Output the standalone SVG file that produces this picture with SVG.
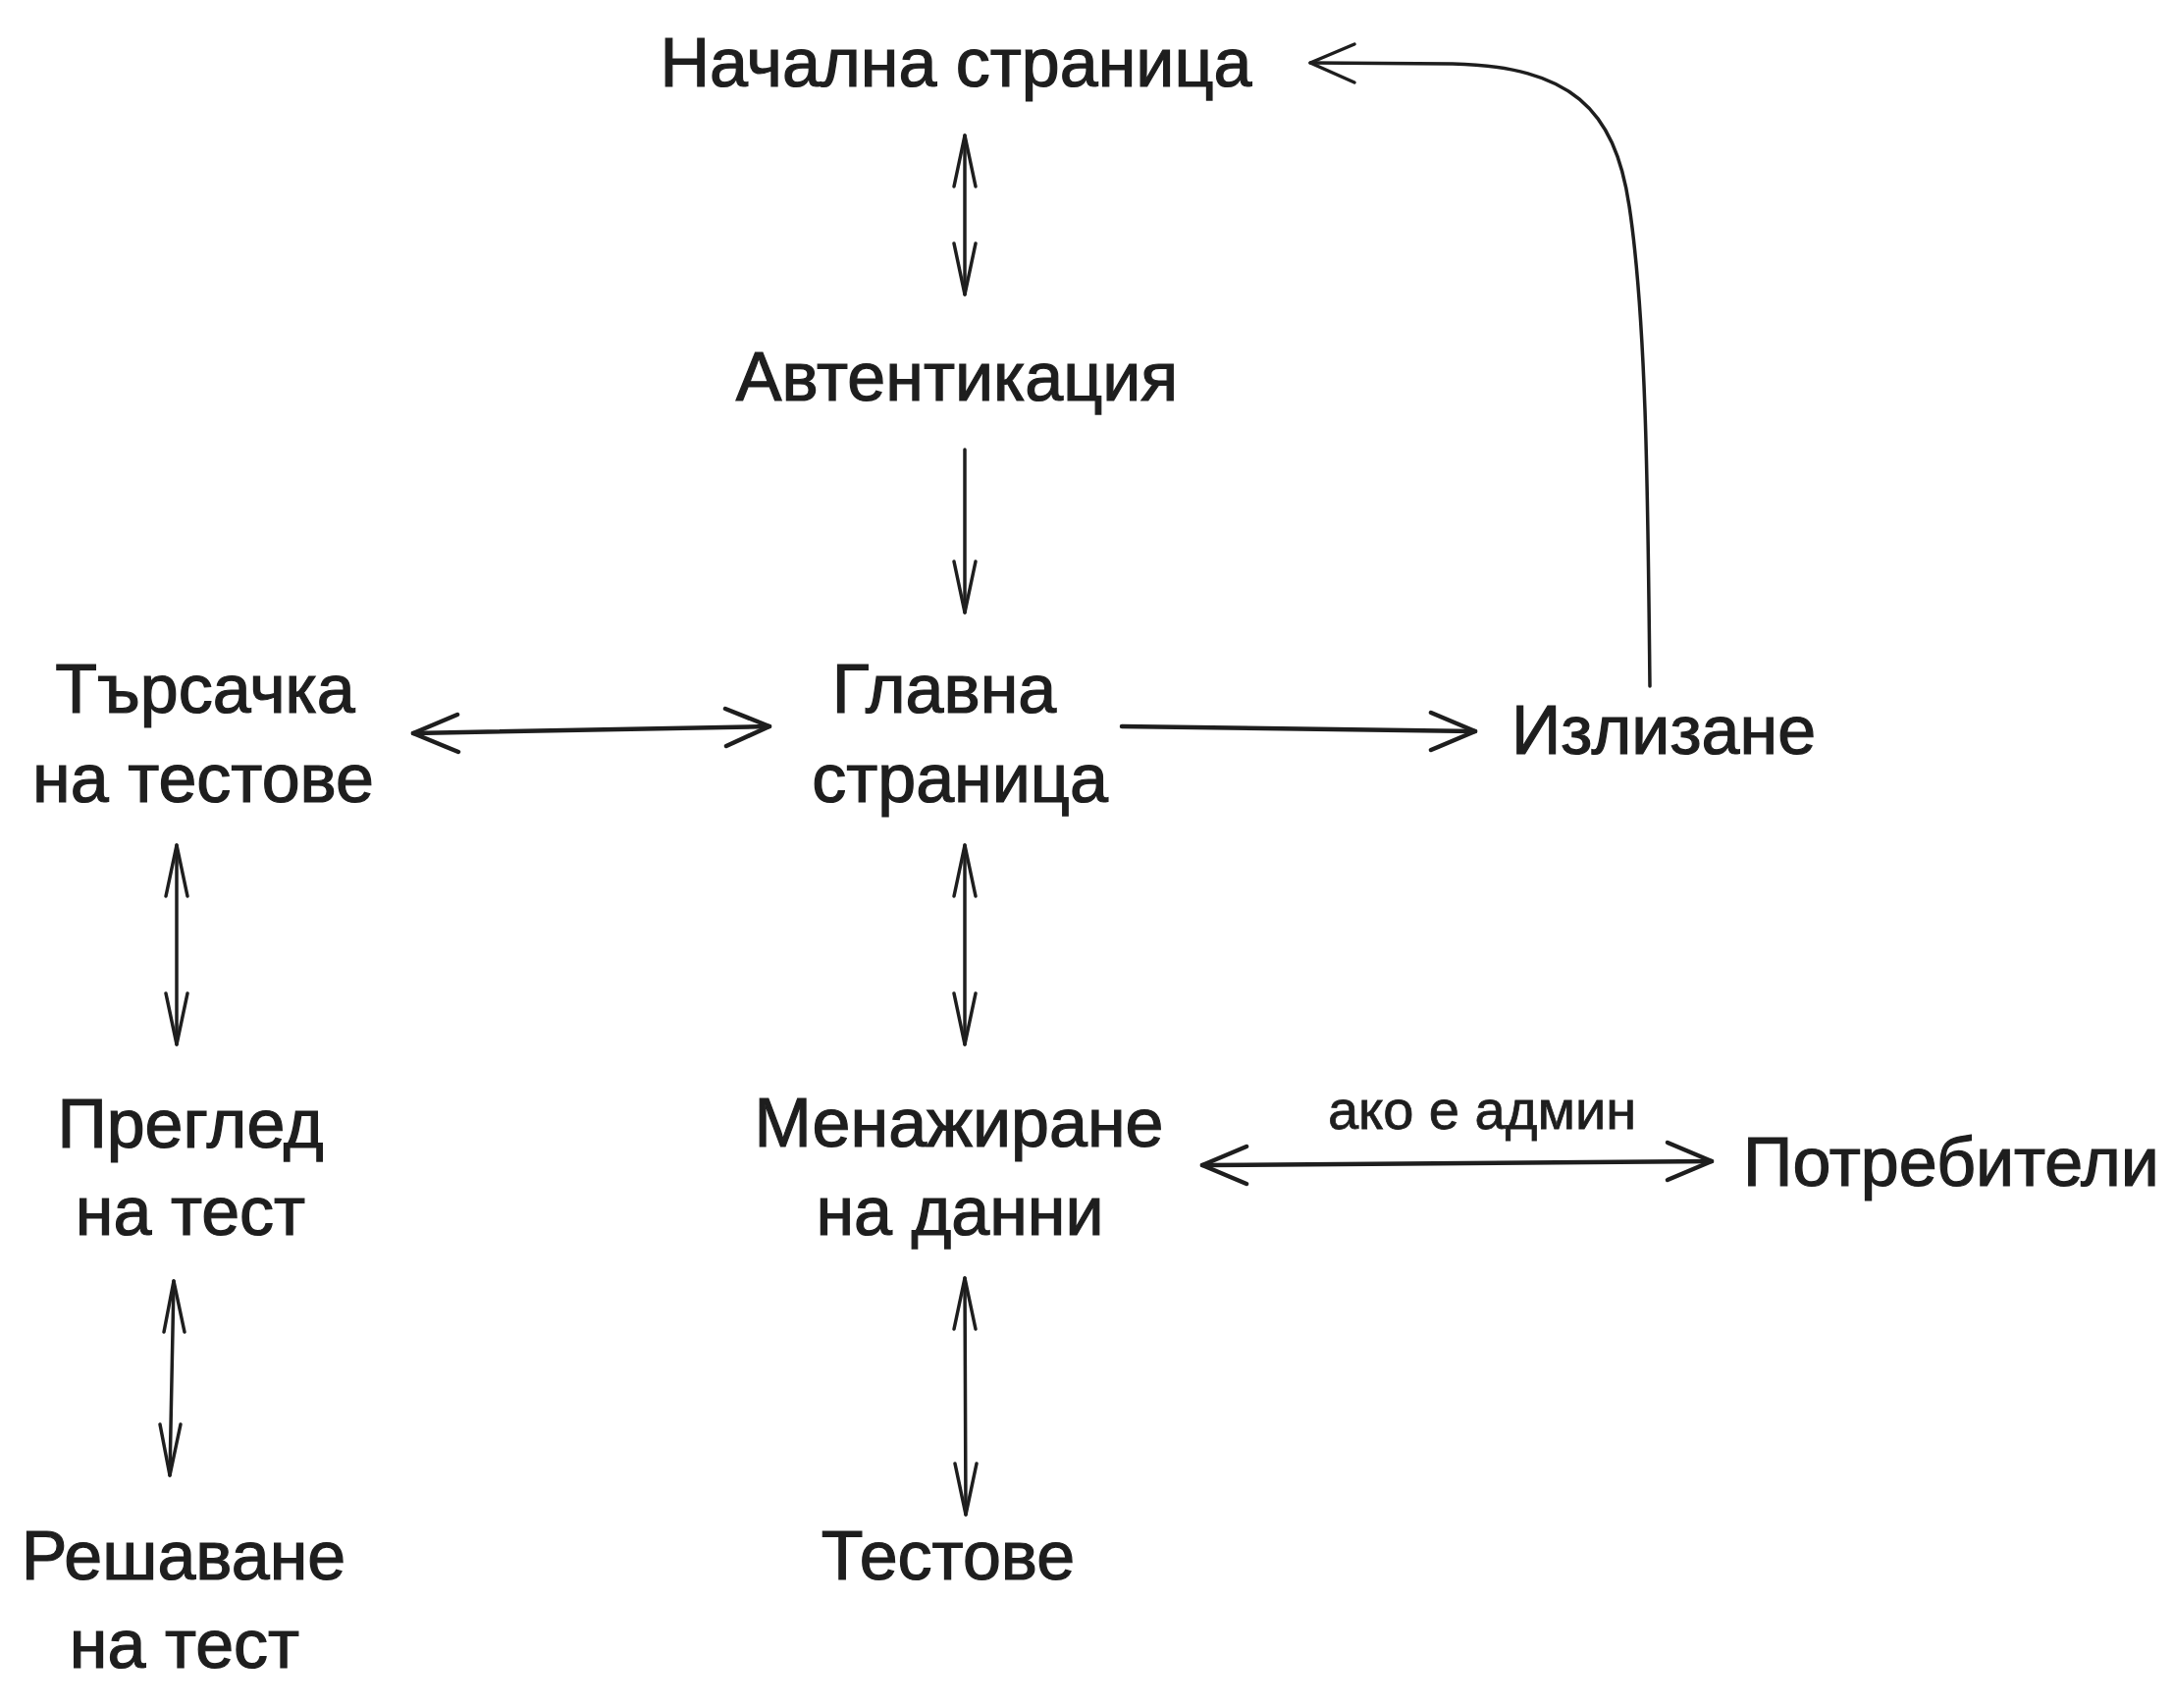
<svg xmlns="http://www.w3.org/2000/svg" width="2214" height="1740" viewBox="0 0 2214 1740">
<style>
.t{font-family:"Liberation Sans","Noto Sans",sans-serif;font-size:70px;fill:#1e1e1e;stroke:#1e1e1e;stroke-width:1.2;text-anchor:middle}
.lbl{font-family:"Liberation Sans","Noto Sans",sans-serif;font-size:56px;fill:#1e1e1e;stroke:#1e1e1e;stroke-width:0.8;text-anchor:middle}
.c{fill:none;stroke:#1e1e1e;stroke-width:3.5;stroke-linecap:round;stroke-linejoin:round}
.b{stroke-width:4.5}
</style>
<rect width="2214" height="1740" fill="#ffffff"/>
<g id="connectors">
  <g id="e-start-auth" class="c">
    <path d="M983 138 L983 300"/>
    <path d="M972 190 L983 138 L994 190"/>
    <path d="M972 248 L983 300 L994 248"/>
  </g>
  <g id="e-auth-main" class="c">
    <path d="M983 458 L983 624"/>
    <path d="M972 572 L983 624 L994 572"/>
  </g>
  <g id="e-search-main" class="c b">
    <path d="M421 747 L784 740"/>
    <path d="M466 728 L421 747 L467 766"/>
    <path d="M739 722 L784 740 L740 760"/>
  </g>
  <g id="e-main-logout" class="c b">
    <path d="M1143 740 L1503 745"/>
    <path d="M1458 726 L1503 745 L1458 764"/>
  </g>
  <g id="e-logout-start" class="c">
    <path d="M1681 699 C1679 520 1678 330 1660 210 C1645 110 1600 68 1480 65 L1335 64"/>
    <path d="M1380 45 L1335 64 L1380 84"/>
  </g>
  <g id="e-search-review" class="c">
    <path d="M180 861 L180 1064"/>
    <path d="M169 913 L180 861 L191 913"/>
    <path d="M169 1012 L180 1064 L191 1012"/>
  </g>
  <g id="e-main-manage" class="c">
    <path d="M983 861 L983 1064"/>
    <path d="M972 913 L983 861 L994 913"/>
    <path d="M972 1012 L983 1064 L994 1012"/>
  </g>
  <g id="e-manage-users" class="c b">
    <path d="M1225 1187 L1744 1183"/>
    <path d="M1270 1168 L1225 1187 L1270 1206"/>
    <path d="M1699 1164 L1744 1183 L1699 1202"/>
  </g>
  <text class="lbl" x="1510" y="1150">ако е админ</text>
  <g id="e-review-solve" class="c">
    <path d="M177 1305 L173 1503"/>
    <path d="M167 1357 L177 1305 L188 1357"/>
    <path d="M163 1451 L173 1503 L184 1451"/>
  </g>
  <g id="e-manage-tests" class="c">
    <path d="M983 1302 L984 1543"/>
    <path d="M972 1354 L983 1302 L994 1354"/>
    <path d="M973 1491 L984 1543 L995 1491"/>
  </g>
</g>
<g id="n-start"><text class="t" x="974" y="88">Начална страница</text></g>
<g id="n-auth"><text class="t" x="975" y="408">Автентикация</text></g>
<g id="n-search"><text class="t" x="209" y="726">Търсачка</text><text class="t" x="207" y="817">на тестове</text></g>
<g id="n-main"><text class="t" x="962" y="726">Главна</text><text class="t" x="978" y="817">страница</text></g>
<g id="n-logout"><text class="t" x="1695" y="768">Излизане</text></g>
<g id="n-review"><text class="t" x="194" y="1169">Преглед</text><text class="t" x="194" y="1258">на тест</text></g>
<g id="n-manage"><text class="t" x="977" y="1168">Менажиране</text><text class="t" x="978" y="1258">на данни</text></g>
<g id="n-users"><text class="t" x="1988" y="1208">Потребители</text></g>
<g id="n-solve"><text class="t" x="187" y="1609">Решаване</text><text class="t" x="188" y="1699">на тест</text></g>
<g id="n-tests"><text class="t" x="966" y="1609">Тестове</text></g>
</svg>
